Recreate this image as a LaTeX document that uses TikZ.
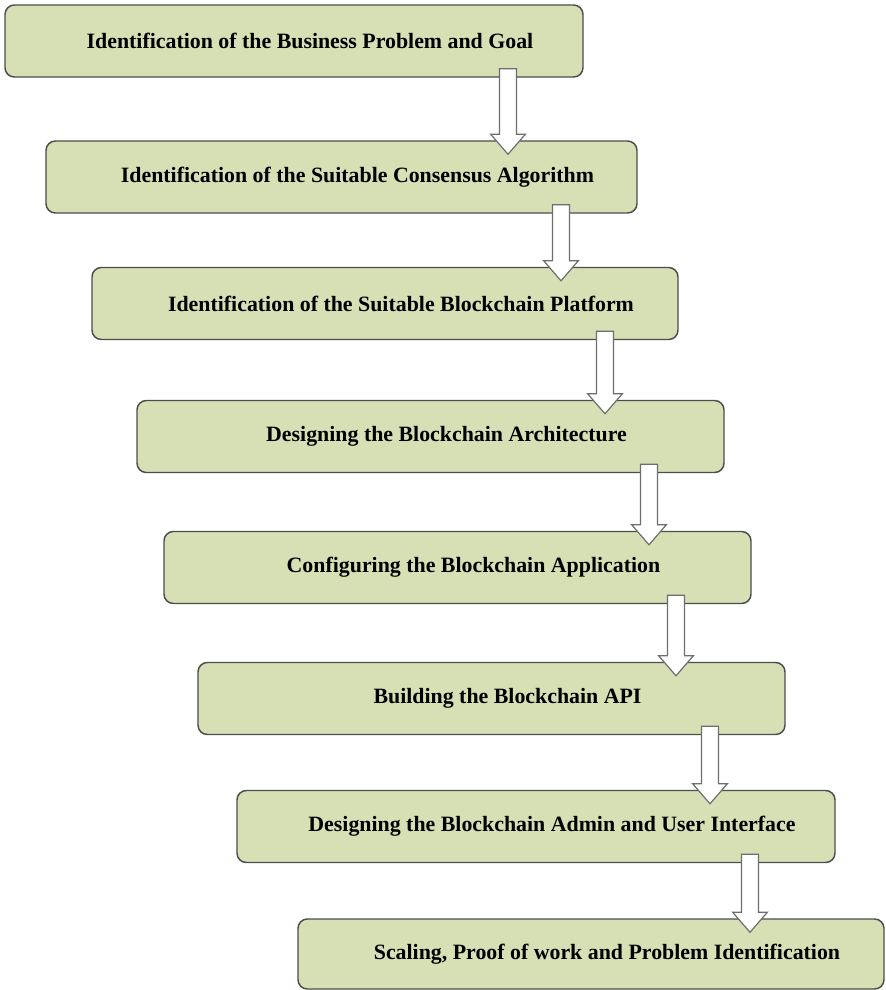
\documentclass[tikz,border=0pt]{standalone}
\usepackage{fontspec}
\setmainfont{Liberation Serif}
\usetikzlibrary{calc}

\definecolor{stepfill}{HTML}{D7E0B5}
\definecolor{stepline}{HTML}{4D4D4D}
\definecolor{arrowline}{HTML}{6E6E6E}

% hollow block arrow from one step down into the next one, #3 = its x
\newcommand{\steparrow}[3]{%
  \draw[flowarrow] let \p1=(#1.south), \p2=(#2.north), \p3=(#3,0) in
    (\x3-6.4pt,\y1+6.75pt) -- (\x3+6.4pt,\y1+6.75pt) -- (\x3+6.4pt,\y2+4.5pt)
    -- (\x3+13pt,\y2+4.5pt) -- (\x3,\y2-10.5pt) -- (\x3-13pt,\y2+4.5pt)
    -- (\x3-6.4pt,\y2+4.5pt) -- cycle;}

\begin{document}
\begin{tikzpicture}[x=0.75pt, y=-0.75pt,
  stepbox/.style={draw=stepline, line width=1.1pt, fill=stepfill, rounded corners=7pt,
    minimum height=54pt, inner sep=0pt, font=\fontsize{16.4}{19}\selectfont\bfseries,
    execute at begin node=\hspace*{24pt}},
  flowarrow/.style={draw=arrowline, line width=0.9pt, fill=white, line join=miter}]
\useasboundingbox (0,0) rectangle (886,990);
\node[stepbox, minimum width=433.5pt] (goal) at (294,41) {Identification of the Business Problem and Goal};
\node[stepbox, minimum width=443.25pt] (consensus) at (341.5,177) {Identification of the Suitable Consensus Algorithm};
\node[stepbox, minimum width=439.5pt] (platform) at (385,303.5) {Identification of the Suitable Blockchain Platform};
\node[stepbox, minimum width=440.25pt] (architecture) at (430.5,436.5) {Designing the Blockchain Architecture};
\node[stepbox, minimum width=440.25pt] (config) at (457.5,567.5) {Configuring the Blockchain Application};
\node[stepbox, minimum width=440.25pt] (api) at (491.5,698.5) {Building the Blockchain API};
\node[stepbox, minimum width=448.5pt] (ui) at (536,826.5) {Designing the Blockchain Admin and User Interface};
\node[stepbox, minimum width=439.5pt, minimum height=52.5pt] (scaling) at (591,954) {Scaling, Proof of work and Problem Identification};
\steparrow{goal}{consensus}{508}
\steparrow{consensus}{platform}{561}
\steparrow{platform}{architecture}{605}
\steparrow{architecture}{config}{649}
\steparrow{config}{api}{676}
\steparrow{api}{ui}{710}
\steparrow{ui}{scaling}{750}
\end{tikzpicture}
\end{document}
